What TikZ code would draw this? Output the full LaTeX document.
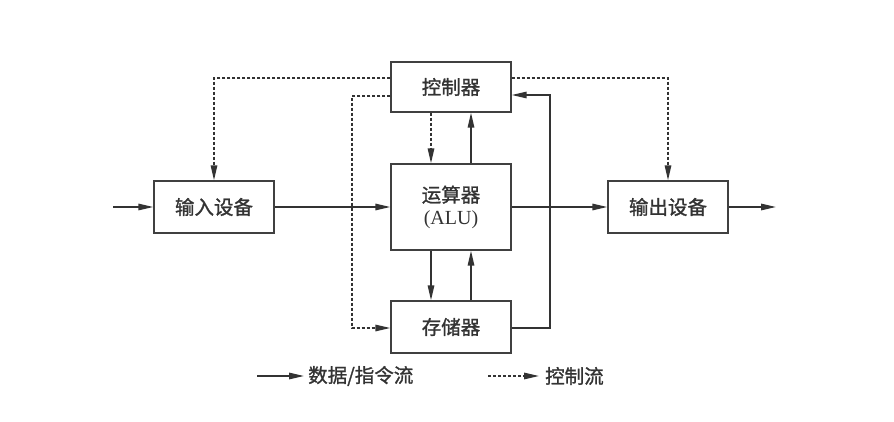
\documentclass[tikz,border=0pt]{standalone}
\usepackage{fontspec}
\setmainfont{Liberation Serif}
\newfontfamily\cjk[FakeBold=1.2]{Noto Sans CJK SC}
\usetikzlibrary{arrows.meta,calc}
\begin{document}
\begin{tikzpicture}[x=1pt,y=-1pt,
  every node/.style={font=\fontsize{19.5}{23}\selectfont\cjk, text=black!80},
  box/.style={draw=black!75, line width=1.4pt, minimum width=120pt, inner sep=0pt, align=center},
  data/.style={draw=black!80, line width=1.5pt, -{Triangle[length=15pt,width=6.5pt]}},
  ctl/.style={draw=black!80, line width=1.5pt, dash pattern=on 3pt off 2pt, -{Triangle[length=15pt,width=6.5pt]}}]
\useasboundingbox (0,0) rectangle (894,422);
\node[box, minimum height=50pt] (ctrl) at (451,87) {控制器};
\node[box, minimum height=86pt] (alu) at (451,207) {运算器\\[-1pt]{\rmfamily\fontsize{20}{23}\selectfont (ALU)}};
\node[box, minimum height=52pt] (mem) at (451,327) {存储器};
\node[box, minimum height=52pt] (in) at (214,207) {输入设备};
\node[box, minimum height=52pt] (out) at (668,207) {输出设备};
\coordinate (src) at (113,207);
\coordinate (dst) at (776,207);
% data flows
\draw[data] (src) -- (in.west);
\draw[data] (in.east) -- (alu.west);
\draw[data] (alu.east) -- (out.west);
\draw[data] (out.east) -- (dst);
\draw[data] ($(alu.north)+(20,0)$) -- ($(ctrl.south)+(20,0)$);
\draw[data] ($(alu.south)+(-20,0)$) -- ($(mem.north)+(-20,0)$);
\draw[data] ($(mem.north)+(20,0)$) -- ($(alu.south)+(20,0)$);
\draw[data] ($(mem.east)+(0,1)$) -- (550,328) |- ($(ctrl.east)+(0,8)$);
% control flows
\draw[ctl] ($(ctrl.west)+(0,-9)$) -| (in.north);
\draw[ctl] ($(ctrl.east)+(0,-9)$) -| (out.north);
\draw[ctl] ($(ctrl.west)+(0,9)$) -| (352,328) -- ($(mem.west)+(0,1)$);
\draw[ctl] ($(ctrl.south)+(-20,0)$) -- ($(alu.north)+(-20,0)$);
% legend
\coordinate (l1a) at (257,376);
\coordinate (l1b) at (304,376);
\coordinate (l2a) at (488,376);
\coordinate (l2b) at (539,376);
\draw[data] (l1a) -- (l1b);
\node[anchor=west, inner sep=0pt] (t1) at (308,376) {数据/指令流};
\draw[ctl] (l2a) -- (l2b);
\node[anchor=west, inner sep=0pt] (t2) at (545,376) {控制流};
\end{tikzpicture}
\end{document}
